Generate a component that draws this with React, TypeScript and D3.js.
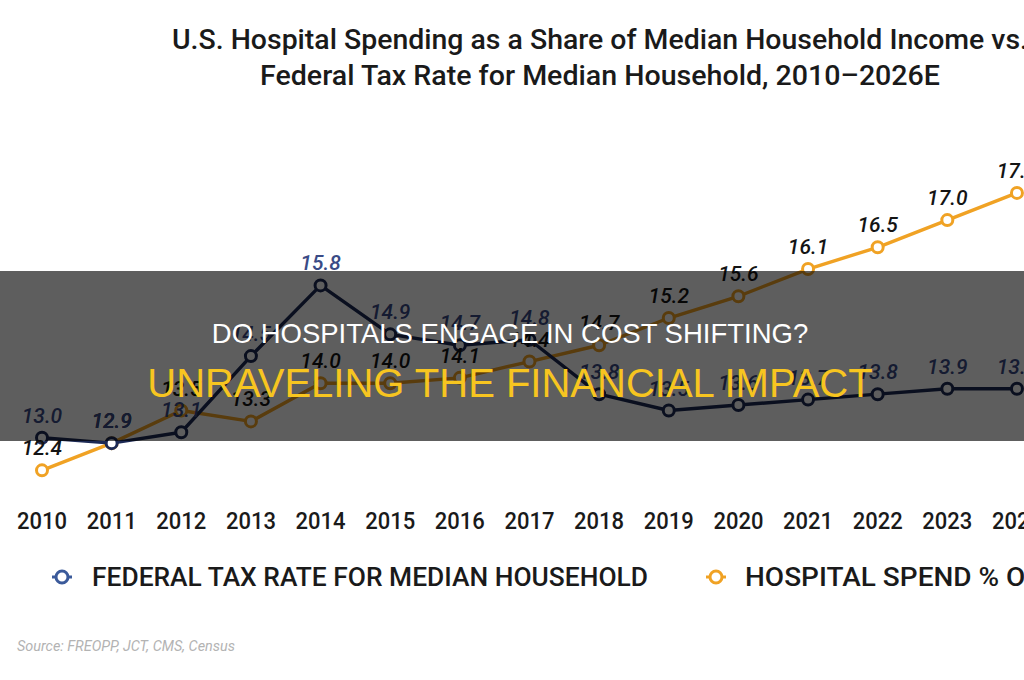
import React from "react";
import * as d3 from "d3";

const years = [2010, 2011, 2012, 2013, 2014, 2015, 2016, 2017, 2018, 2019, 2020, 2021, 2022, 2023, 2024];
const federalTax = [13.0, 12.9, 13.1, 14.5, 15.8, 14.9, 14.7, 14.8, 13.8, 13.5, 13.6, 13.7, 13.8, 13.9, 13.9];
const hospitalSpend = [12.4, 12.9, 13.5, 13.3, 14.0, 14.0, 14.1, 14.4, 14.7, 15.2, 15.6, 16.1, 16.5, 17.0, 17.5];
const yearTicks = ["2010", "2011", "2012", "2013", "2014", "2015", "2016", "2017", "2018", "2019", "2020", "2021", "2022", "2023", "2024", "2025", "2026E"];
const titleLines = [
  "U.S. Hospital Spending as a Share of Median Household Income vs.",
  "Federal Tax Rate for Median Household, 2010\u20132026E",
];
const legendLabels = ["FEDERAL TAX RATE FOR MEDIAN HOUSEHOLD", "HOSPITAL SPEND % OF MEDIAN HOUSEHOLD INCOME"];
const sourceText = "Source: FREOPP, JCT, CMS, Census";
const overlayTitle = "DO HOSPITALS ENGAGE IN COST SHIFTING?";
const overlaySubtitle = "UNRAVELING THE FINANCIAL IMPACT";

const W = 1024;
const H = 680;
const NAVY = "#1d2a55";
const NAVY_LABEL = "#3a4b86";
const ORANGE = "#f0a224";

export default function App() {
  const x = d3.scaleLinear().domain([2010, 2026]).range([42, 42 + 16 * 69.64]);
  const y = d3.scaleLinear().domain([12, 18]).range([492.1, 165.7]);
  const line = d3
    .line<number>()
    .x((_, i) => x(years[i]))
    .y((d) => y(d));

  const labelFont = "Roboto, 'Open Sans', sans-serif";

  const series = [
    { values: hospitalSpend, stroke: ORANGE, labelColor: "#141414" },
    { values: federalTax, stroke: NAVY, labelColor: NAVY_LABEL },
  ];

  return (
    <svg
      width={W}
      height={H}
      viewBox={`0 0 ${W} ${H}`}
      style={{ position: "absolute", left: 0, top: 0, background: "#fff", display: "block" }}
    >
      <rect x={0} y={0} width={W} height={H} fill="#fff" />
      {/* Title */}
      <g fontFamily={labelFont} fontWeight={500} fill="#1a1a1a" fontSize={28}>
        <text x={600} y={49} textAnchor="middle" textLength={856} lengthAdjust="spacingAndGlyphs">
          {titleLines[0]}
        </text>
        <text x={600} y={85} textAnchor="middle" textLength={680} lengthAdjust="spacingAndGlyphs">
          {titleLines[1]}
        </text>
      </g>

      {/* Lines */}
      {series.map((s, si) => (
        <g key={si}>
          <path d={line(s.values) || ""} fill="none" stroke={s.stroke} strokeWidth={3.4} strokeLinejoin="round" />
          {s.values.map((v, i) => (
            <circle key={i} cx={x(years[i])} cy={y(v)} r={5.5} fill="#fff" stroke={s.stroke} strokeWidth={3} />
          ))}
        </g>
      ))}
      {/* Labels */}
      {series.map((s, si) => (
        <g key={"l" + si} fontFamily={labelFont} fontStyle="italic" fontWeight={500} fontSize={21} fill={s.labelColor}>
          {s.values.map((v, i) => (
            <text key={i} x={x(years[i])} y={y(v) - 15} textAnchor="middle">
              {v.toFixed(1)}
            </text>
          ))}
        </g>
      ))}

      {/* X axis tick labels */}
      <g fontFamily={labelFont} fontWeight={500} fontSize={24} fill="#1a1a1a">
        {yearTicks.map((t, i) => (
          <text key={t} x={x(2010 + i)} y={529} textAnchor="middle" textLength={t.length === 4 ? 50 : 62} lengthAdjust="spacingAndGlyphs">
            {t}
          </text>
        ))}
      </g>

      {/* Legend */}
      <g>
        <line x1={52} x2={72} y1={577} y2={577} stroke="#3b5a9a" strokeWidth={3} />
        <circle cx={62} cy={577} r={6} fill="#fff" stroke="#3b5a9a" strokeWidth={3} />
        <text x={92} y={586} fontFamily={labelFont} fontWeight={500} fontSize={26} fill="#1a1a1a" textLength={556} lengthAdjust="spacingAndGlyphs">
          {legendLabels[0]}
        </text>
        <line x1={706} x2={726} y1={577} y2={577} stroke={ORANGE} strokeWidth={3} />
        <circle cx={716} cy={577} r={6} fill="#fff" stroke={ORANGE} strokeWidth={3} />
        <text x={745} y={586} fontFamily={labelFont} fontWeight={500} fontSize={26} fill="#1a1a1a" textLength={690} lengthAdjust="spacingAndGlyphs">
          {legendLabels[1]}
        </text>
      </g>

      {/* Source */}
      <text x={17} y={651} fontFamily={labelFont} fontStyle="italic" fontSize={15} fill="#b3b3b3" textLength={218} lengthAdjust="spacingAndGlyphs">
        {sourceText}
      </text>

      {/* Overlay band */}
      <rect x={0} y={271} width={W} height={170} fill="rgba(0,0,0,0.63)" />
      <text x={510} y={343} textAnchor="middle" fontFamily="'Liberation Sans', Arial, sans-serif" fontSize={27.5} fill="#ffffff">
        {overlayTitle}
      </text>
      <text x={510} y={397} textAnchor="middle" fontFamily="'Liberation Sans', Arial, sans-serif" fontSize={40} fill="#f7c520">
        {overlaySubtitle}
      </text>
    </svg>
  );
}
